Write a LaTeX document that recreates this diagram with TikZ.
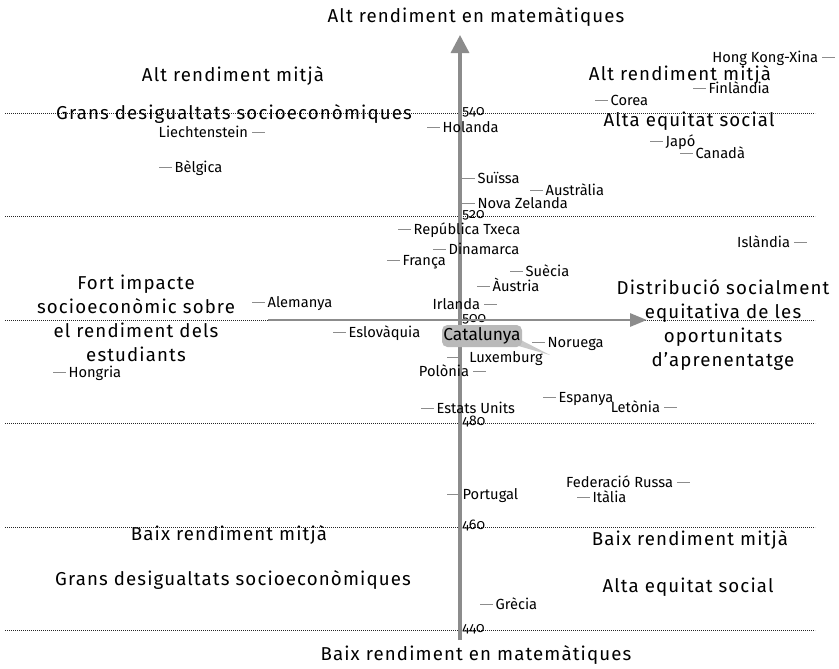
\documentclass[tikz,border=0pt]{standalone}
\usepackage{fontspec}
\setmainfont{Fira Sans}
\newfontfamily\ticknums[Numbers=OldStyle]{Fira Sans}
\newfontfamily\quadfont[LetterSpace=6]{Fira Sans}
\usetikzlibrary{arrows.meta}

\definecolor{axisgray}{HTML}{8C8C8C}
\definecolor{markgray}{HTML}{8C8C8C}
\definecolor{boxgray}{HTML}{B9B9B9}
\definecolor{tailgray}{HTML}{C9C9C9}

% short grey mark before / after a country name
\newcommand{\mk}{\textcolor{markgray}{\rule[0.27em]{9.5pt}{0.9pt}}}
\newcommand{\lm}[1]{\mk\hspace{2pt}#1}
\newcommand{\rmk}[1]{#1\hspace{3pt}\mk}

\tikzset{
  gridline/.style={line width=0.6pt, black!85, dash pattern=on 0.6pt off 0.9pt},
  axisline/.style={axisgray, line width=2.5pt},
  ctry/.style={inner sep=0pt, font=\fontsize{11pt}{13pt}\selectfont},
  cleft/.style={ctry, anchor=base west},
  cright/.style={ctry, anchor=base east},
  tick/.style={inner sep=0pt, anchor=base west, font=\fontsize{10.5pt}{12pt}\ticknums},
  quad/.style={inner sep=0pt, align=center, font=\fontsize{14pt}{18pt}\quadfont},
}

\begin{document}
\begin{tikzpicture}[x=0.75pt, y=-0.75pt]
\useasboundingbox (0,0) rectangle (839,668);

% grid lines and values
\foreach \v/\yy in {540/113, 520/216.5, 500/320, 480/423.5, 460/527, 440/630.5} {
  \draw[gridline] (5,\yy) -- (815,\yy);
  \node[tick] (t\v) at (462,\yy+2) {\v};
}

% axes
\coordinate (ybot) at (460,640);
\coordinate (ytop) at (460,35);
\coordinate (xleft) at (268,320);
\coordinate (xright) at (647,320);
\draw[axisline, -{Triangle[length=18pt*0.75, width=18pt*0.75]}] (ybot) -- (ytop);
\draw[axisline, line width=2.2pt, -{Triangle[length=17pt*0.75, width=13pt*0.75]}] (xleft) -- (xright);

% axis titles
\node[quad] (ttop) at (476,17) {Alt rendiment en matemàtiques};
\node[quad] (tbot) at (476,655) {Baix rendiment en matemàtiques};
\node[quad] (tleft) at (136,318) {Fort impacte\\socioeconòmic sobre\\el rendiment dels\\estudiants};
\node[quad] (tright) at (723,325) {Distribució socialment\\equitativa de les\\oportunitats\\d’aprenentatge};

% quadrants
\node[quad] (q1a) at (233,76) {Alt rendiment mitjà};
\node[quad] (q1b) at (234,114) {Grans desigualtats socioeconòmiques};
\node[quad] (q2a) at (680,75) {Alt rendiment mitjà};
\node[quad] (q2b) at (689,121) {Alta equitat social};
\node[quad] (q3a) at (229,535) {Baix rendiment mitjà};
\node[quad] (q3b) at (233,580) {Grans desigualtats socioeconòmiques};
\node[quad] (q4a) at (690,540) {Baix rendiment mitjà};
\node[quad] (q4b) at (688,587) {Alta equitat social};

% countries
\node[cright] (lie) at (265,137) {\rmk{Liechtenstein}};
\node[cleft] (bel) at (159,172) {\lm{Bèlgica}};
\node[cright] (hk) at (835,62) {\rmk{Hong Kong-Xina}};
\node[cleft] (fin) at (693,93) {\lm{Finlàndia}};
\node[cleft] (cor) at (595,105) {\lm{Corea}};
\node[cleft] (hol) at (427,132) {\lm{Holanda}};
\node[cleft] (jap) at (650,146) {\lm{Japó}};
\node[cleft] (can) at (680,158) {\lm{Canadà}};
\node[cleft] (sui) at (462,183) {\lm{Suïssa}};
\node[cleft] (aus) at (530,195) {\lm{Austràlia}};
\node[cleft] (nz) at (462,208) {\lm{Nova Zelanda}};
\node[cleft] (txe) at (398,234) {\lm{República Txeca}};
\node[cright] (isl) at (807,247) {\rmk{Islàndia}};
\node[cleft] (din) at (433,254) {\lm{Dinamarca}};
\node[cleft] (fra) at (387,265) {\lm{França}};
\node[cleft] (sue) at (510,276) {\lm{Suècia}};
\node[cleft] (aut) at (477,291) {\lm{Àustria}};
\node[cleft] (ale) at (252,307) {\lm{Alemanya}};
\node[cright] (irl) at (497,309) {\rmk{Irlanda}};
\node[cleft] (esl) at (333,337) {\lm{Eslovàquia}};
\node[cleft] (nor) at (532,347) {\lm{Noruega}};
\node[cleft] (lux) at (447,362) {\mk\hspace{7pt}Luxemburg};
\node[cright] (pol) at (486,376) {\rmk{Polònia}};
\node[cleft] (hon) at (53,377) {\lm{Hongria}};
\node[cleft] (esp) at (543,402) {\lm{Espanya}};
\node[cright] (let) at (677,412) {\rmk{Letònia}};
\node[cleft] (usa) at (421,413) {\lm{Estats Units}};
\node[cright] (rus) at (690,487) {\rmk{Federació Russa}};
\node[cleft] (por) at (447,499) {\lm{Portugal}};
\node[cleft] (ita) at (577,502) {\lm{Itàlia}};
\node[cleft] (gre) at (480,609) {\lm{Grècia}};

% Catalunya
\coordinate (catpt) at (550,355);
\fill[tailgray] (515,337) -- (catpt) -- (515,345) -- cycle;
\node[fill=boxgray, rounded corners=4pt, minimum width=60pt, minimum height=16.5pt,
      inner sep=1pt, font=\fontsize{13pt}{15pt}\selectfont] (cat) at (482,336) {Catalunya};
\end{tikzpicture}
\end{document}
